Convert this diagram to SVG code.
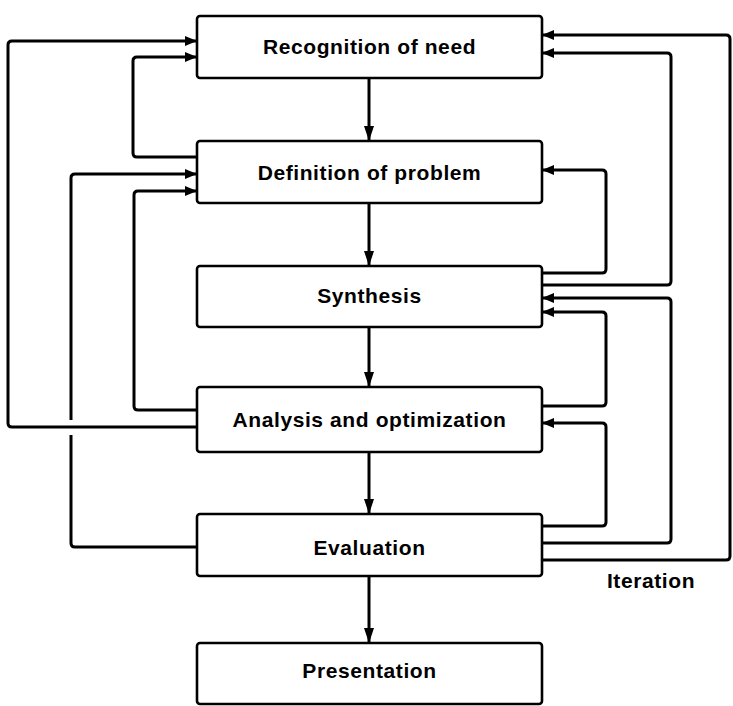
<svg xmlns="http://www.w3.org/2000/svg" width="733" height="706" viewBox="0 0 733 706">
<defs>
<style>
.box{fill:#fff;stroke:#000;stroke-width:2.6}
.lbl{font-family:"Liberation Sans",Arial,sans-serif;font-weight:bold;font-size:21px;letter-spacing:0.6px;fill:#000;text-anchor:middle}
.conn{fill:none;stroke:#000;stroke-width:3;stroke-linejoin:round}
</style>
<marker id="ah" viewBox="0 0 12 10" refX="12" refY="5" markerWidth="12" markerHeight="10" markerUnits="userSpaceOnUse" orient="auto"><path d="M0,0 L12,5 L0,10 z" fill="#000"/></marker>
<marker id="av" viewBox="0 0 15 10" refX="15" refY="5" markerWidth="15" markerHeight="10" markerUnits="userSpaceOnUse" orient="auto"><path d="M0,0 L15,5 L0,10 z" fill="#000"/></marker>
</defs>
<rect width="733" height="706" fill="#fff"/>
<g id="connectors">
<path class="conn" d="M369,78 V141" marker-end="url(#av)"/>
<path class="conn" d="M369,203 V266" marker-end="url(#av)"/>
<path class="conn" d="M369,327 V387" marker-end="url(#av)"/>
<path class="conn" d="M369,452 V514" marker-end="url(#av)"/>
<path class="conn" d="M369,576 V643" marker-end="url(#av)"/>
<path class="conn" d="M197,427 H12 Q8,427 8,423 V45 Q8,41 12,41 H197" marker-end="url(#ah)"/>
<path class="conn" d="M197,157 H137 Q133,157 133,153 V61 Q133,57 137,57 H197" marker-end="url(#ah)"/>
<path class="conn" d="M197,547 H75 Q71,547 71,543 V435"/>
<path class="conn" d="M71,420 V178 Q71,174 75,174 H197" marker-end="url(#ah)"/>
<path class="conn" d="M197,410 H138 Q134,410 134,406 V195 Q134,191 138,191 H197" marker-end="url(#ah)"/>
<path class="conn" d="M542,560 H726 Q730,560 730,556 V39 Q730,35 726,35 H542" marker-end="url(#ah)"/>
<path class="conn" d="M542,285 H667 Q671,285 671,281 V57 Q671,53 667,53 H542" marker-end="url(#ah)"/>
<path class="conn" d="M542,273 H602 Q606,273 606,269 V174 Q606,170 602,170 H542" marker-end="url(#ah)"/>
<path class="conn" d="M542,543 H667 Q671,543 671,539 V302 Q671,298 667,298 H542" marker-end="url(#ah)"/>
<path class="conn" d="M542,406 H602 Q606,406 606,402 V316 Q606,312 602,312 H542" marker-end="url(#ah)"/>
<path class="conn" d="M542,526 H602 Q606,526 606,522 V427 Q606,423 602,423 H542" marker-end="url(#ah)"/>
<text class="lbl" x="651" y="588">Iteration</text>
</g>
<g id="recognition"><rect class="box" x="197" y="16" width="345" height="62" rx="3"/><text class="lbl" x="369.5" y="54">Recognition of need</text></g>
<g id="definition"><rect class="box" x="197" y="141" width="345" height="62" rx="3"/><text class="lbl" x="369.5" y="180">Definition of problem</text></g>
<g id="synthesis"><rect class="box" x="197" y="266" width="345" height="61" rx="3"/><text class="lbl" x="369.5" y="303">Synthesis</text></g>
<g id="analysis"><rect class="box" x="197" y="387" width="345" height="65" rx="3"/><text class="lbl" x="369.5" y="427">Analysis and optimization</text></g>
<g id="evaluation"><rect class="box" x="197" y="514" width="345" height="62" rx="3"/><text class="lbl" x="369.5" y="555">Evaluation</text></g>
<g id="presentation"><rect class="box" x="197" y="643" width="345" height="61" rx="3"/><text class="lbl" x="369.5" y="678">Presentation</text></g>
</svg>
